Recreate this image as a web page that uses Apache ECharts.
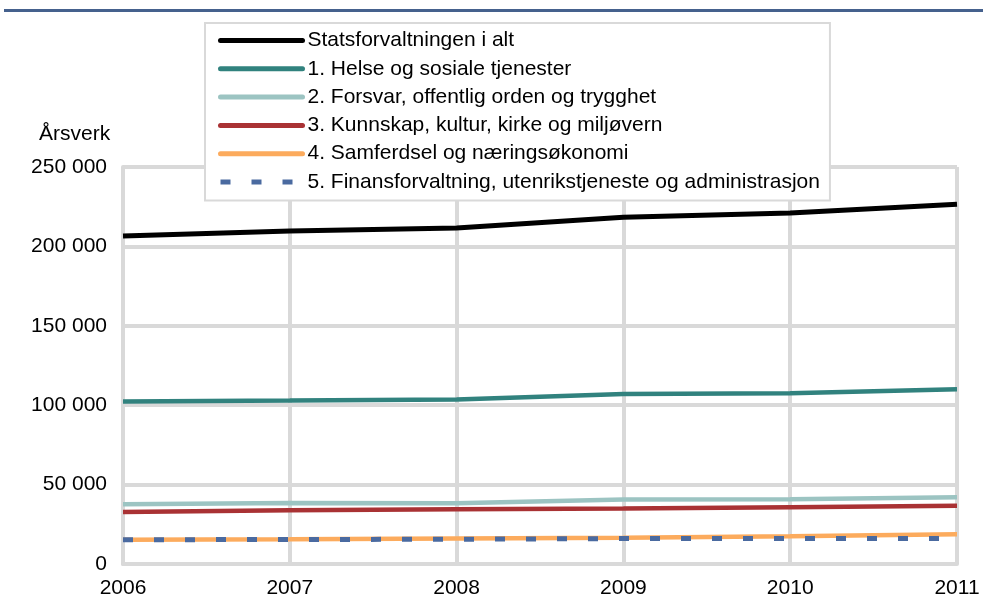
<!DOCTYPE html>
<html>
<head>
<meta charset="utf-8">
<title>Årsverk</title>
<script src="https://cdn.jsdelivr.net/npm/echarts@6/dist/echarts.min.js"></script>
<style>
  html, body { margin: 0; padding: 0; background: #fff; }
  #chart { width: 983px; height: 606px; }
</style>
</head>
<body>
<div id="chart"></div>
<script>
// years on the x axis
var years = ['2006', '2007', '2008', '2009', '2010', '2011']

// årsverk per series
var totalState = [206600, 209700, 211600, 218300, 221000, 226600]
var health = [102300, 102900, 103600, 107000, 107600, 110100]
var defence = [37600, 38400, 38200, 40600, 40800, 42000]
var knowledge = [32800, 33900, 34500, 35000, 35800, 36700]
var transport = [15300, 15600, 16100, 16600, 17400, 18700]
var finance = [15300, 15400, 15600, 16000, 16000, 16100]

var seriesNames = [
  'Statsforvaltningen i alt',
  '1. Helse og sosiale tjenester',
  '2. Forsvar, offentlig orden og trygghet',
  '3. Kunnskap, kultur, kirke og miljøvern',
  '4. Samferdsel og næringsøkonomi',
  '5. Finansforvaltning, utenrikstjeneste og administrasjon'
]

var yTicks = [0, 50000, 100000, 150000, 200000, 250000]

var font = 'Liberation Sans, Arial, sans-serif'
var gridColor = '#d9d9d9'

function fmt(v) {
  return String(v).replace(/\B(?=(\d{3})+(?!\d))/g, ' ')
}

function line(name, data, color, extra) {
  return {
    name: name,
    type: 'line',
    data: data,
    symbol: 'none',
    silent: true,
    animation: false,
    lineStyle: Object.assign({ color: color, width: 4.5 }, extra || {}),
    itemStyle: { color: color }
  }
}

// legend entries; the dashed one keeps square dash ends
var legendData = seriesNames.map(function (n, i) {
  return i === 5 ? { name: n, lineStyle: { cap: 'butt' } } : { name: n }
})

var chart = echarts.init(document.getElementById('chart'))
chart.setOption({
  backgroundColor: '#fff',
  textStyle: { fontFamily: font },
  grid: { left: 123, right: 26, top: 167, bottom: 42 },
  graphic: [
    {
      type: 'rect',
      shape: { x: 4, y: 9, width: 979, height: 3 },
      style: { fill: '#45618d' }
    },
    {
      type: 'text',
      left: 39,
      top: 124,
      style: { text: 'Årsverk', font: '21px ' + font, fill: '#000' }
    }
  ],
  legend: {
    orient: 'vertical',
    left: 205,
    top: 23,
    width: 633,
    padding: [7, 10, 8, 13],
    itemWidth: 82,
    itemHeight: 14,
    itemGap: 7.3,
    backgroundColor: '#fff',
    borderColor: gridColor,
    borderWidth: 2,
    selectedMode: false,
    data: legendData,
    itemStyle: { opacity: 0 },
    lineStyle: { width: 5, cap: 'round' },
    textStyle: { fontSize: 21, lineHeight: 21, color: '#000', fontFamily: font }
  },
  xAxis: {
    type: 'category',
    data: years,
    boundaryGap: false,
    axisLine: { lineStyle: { color: gridColor, width: 4 } },
    axisTick: { show: false },
    axisLabel: { color: '#000', fontSize: 21, margin: 14, fontFamily: font },
    splitLine: { show: true, lineStyle: { color: gridColor, width: 4 } }
  },
  yAxis: {
    type: 'value',
    min: yTicks[0],
    max: yTicks[yTicks.length - 1],
    interval: 50000,
    axisLine: { show: true, lineStyle: { color: gridColor, width: 4 } },
    axisTick: { show: false },
    axisLabel: { color: '#000', fontSize: 21, margin: 16, fontFamily: font, formatter: fmt },
    splitLine: { lineStyle: { color: gridColor, width: 4 } }
  },
  series: [
    line(seriesNames[0], totalState, '#000000', { width: 5 }),
    line(seriesNames[1], health, '#31827e'),
    line(seriesNames[2], defence, '#9cc4c2'),
    line(seriesNames[3], knowledge, '#a93234'),
    line(seriesNames[4], transport, '#fcab5d'),
    line(seriesNames[5], finance, '#4a6aa0', { width: 5, type: [10, 21] })
  ]
})
</script>
</body>
</html>
